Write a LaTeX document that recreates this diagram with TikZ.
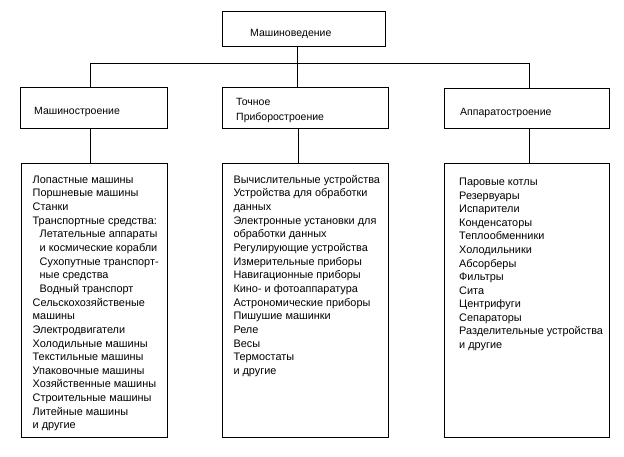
\documentclass[tikz,border=0pt]{standalone}
\usepackage{fontspec}
\setmainfont{Liberation Sans}
\begin{document}
\begin{tikzpicture}[x=1pt,y=1pt,
  boxst/.style={draw=black,line width=0.8pt,inner sep=0pt},
  txt/.style={inner sep=0pt,anchor=north west,align=left,font={\fontsize{10.5}{13.65}\selectfont}},
  listtxt/.style={txt,font={\fontsize{10.9}{13.65}\selectfont}},
  link/.style={draw=black,line width=0.8pt}]
\useasboundingbox[fill=white] (0,0) rectangle (624,-456);
% boxes
\node[boxst,minimum width=163pt,minimum height=35pt,anchor=north west] (top) at (222,-11) {};
\node[boxst,minimum width=146.5pt,minimum height=40.5pt,anchor=north west] (mash) at (20,-87) {};
\node[boxst,minimum width=166pt,minimum height=40.5pt,anchor=north west] (toch) at (222,-87) {};
\node[boxst,minimum width=165pt,minimum height=40pt,anchor=north west] (appa) at (444,-87.5) {};
\node[boxst,minimum width=146pt,minimum height=274pt,anchor=north west] (mashL) at (20.5,-163) {};
\node[boxst,minimum width=166pt,minimum height=274pt,anchor=north west] (tochL) at (222,-163) {};
\node[boxst,minimum width=165pt,minimum height=274pt,anchor=north west] (appaL) at (444,-163) {};
% texts
\node[txt] (t0) at (250,{-36+9.55}) {\strut Машиноведение};
\node[txt] (t1) at (34,{-114.5+9.55}) {\strut Машиностроение};
\node[txt,font={\fontsize{10.5}{15.7}\selectfont}] (t2) at (236,{-104.8+10.99}) {\strut Точное\\Приборостроение};
\node[txt] (t3) at (460,{-114.8+9.55}) {\strut Аппаратостроение};
\node[listtxt] (l1) at (32.5,{-183+9.55}) {\strut Лопастные машины\\
Поршневые машины\\
Станки\\
Транспортные средства:\\
\hspace*{7pt}Летательные аппараты\\
\hspace*{7pt}и космические корабли\\
\hspace*{7pt}Сухопутные транспорт-\\
\hspace*{7pt}ные средства\\
\hspace*{7pt}Водный транспорт\\
Сельскохозяйственые\\
машины\\
Электродвигатели\\
Холодильные машины\\
Текстильные машины\\
Упаковочные машины\\
Хозяйственные машины\\
Строительные машины\\
Литейные машины\\
и другие};
\node[listtxt] (l2) at (233.3,{-183+9.55}) {\strut Вычислительные устройства\\
Устройства для обработки\\
данных\\
Электронные установки для\\
обработки данных\\
Регулирующие устройства\\
Измерительные приборы\\
Навигационные приборы\\
Кино- и фотоаппаратура\\
Астрономические приборы\\
Пишушие машинки\\
Реле\\
Весы\\
Термостаты\\
и другие};
\node[listtxt,font={\fontsize{10.9}{13.55}\selectfont}] (l3) at (459,{-185.5+9.48}) {\strut Паровые котлы\\
Резервуары\\
Испарители\\
Конденсаторы\\
Теплообменники\\
Холодильники\\
Абсорберы\\
Фильтры\\
Сита\\
Центрифуги\\
Сепараторы\\
Разделительные устройства\\
и другие};
% connectors
\coordinate (hub) at (297,-63);
\coordinate (hl) at (90,-63);
\coordinate (hr) at (529.5,-63);
\draw[link] (top.south -| hub) -- (hub);
\draw[link] (hl) -- (hr);
\draw[link] (hl) -- (hl |- mash.north);
\draw[link] (hub) -- (hub |- toch.north);
\draw[link] (hr) -- (hr |- appa.north);
\draw[link] (mash.south -| hl) -- (mashL.north -| hl);
\draw[link] ([xshift=1pt]toch.south -| hub) -- ([xshift=1pt]tochL.north -| hub);
\draw[link] (appa.south -| hr) -- (appaL.north -| hr);
\end{tikzpicture}
\end{document}
